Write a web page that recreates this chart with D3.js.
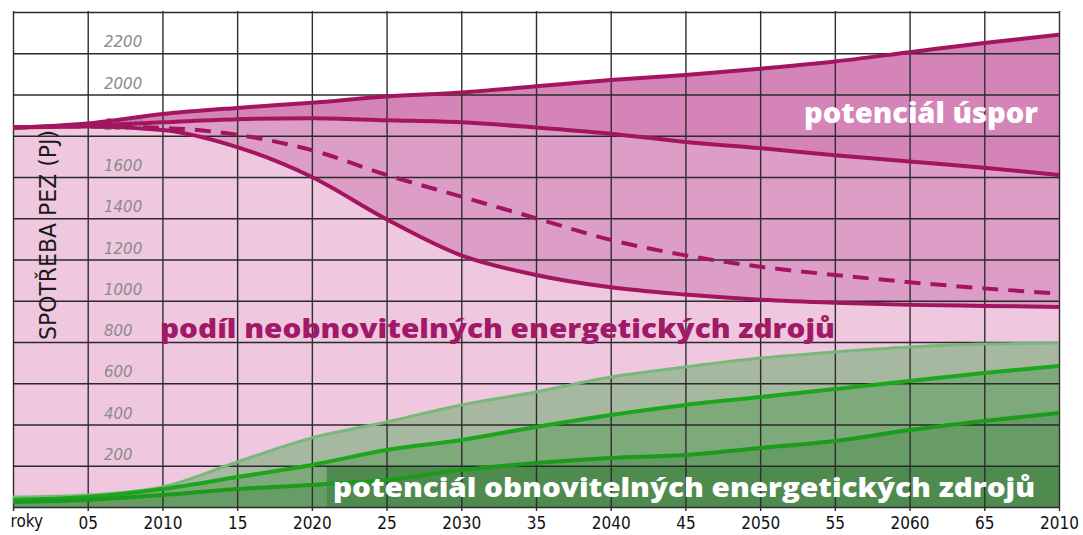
<!DOCTYPE html>
<html>
<head>
<meta charset="utf-8">
<script src="https://cdn.jsdelivr.net/npm/d3@7"></script>
<style>
  body { margin: 0; background: #fff; }
  svg { display: block; }
</style>
</head>
<body>
<div id="chart"></div>
<script>
// roky 2000..2070 po 5 letech
const years = [2000, 2005, 2010, 2015, 2020, 2025, 2030, 2035, 2040, 2045, 2050, 2055, 2060, 2065, 2070];
const yearLabels = ['roky', '05', '2010', '15', '2020', '25', '2030', '35', '2040', '45', '2050', '55', '2060', '65', '2010'];
const yTicks = [0, 200, 400, 600, 800, 1000, 1200, 1400, 1600, 1800, 2000, 2200, 2400];
const yLabels = [200, 400, 600, 800, 1000, 1200, 1400, 1600, 1800, 2000, 2200];

// spotřeba PEZ (PJ)
const usporHigh = [1840, 1860, 1905, 1935, 1960, 1990, 2010, 2040, 2070, 2095, 2125, 2160, 2205, 2250, 2290];
const usporMid = [1840, 1850, 1865, 1880, 1885, 1875, 1865, 1840, 1810, 1770, 1740, 1705, 1675, 1645, 1610];
const usporDashed = [1840, 1845, 1838, 1805, 1730, 1610, 1505, 1400, 1295, 1220, 1165, 1125, 1090, 1060, 1035];
const neobnovitelne = [1840, 1845, 1828, 1745, 1600, 1395, 1220, 1125, 1065, 1030, 1005, 990, 980, 975, 970];

// potenciál OZE
const ozeHigh = [48, 58, 97, 218, 335, 412, 495, 558, 630, 679, 722, 752, 776, 790, 795];
const ozeMid = [34, 48, 87, 145, 204, 276, 325, 388, 446, 495, 533, 572, 611, 650, 684];
const ozeLow = [24, 34, 58, 87, 107, 131, 179, 213, 238, 252, 286, 320, 373, 417, 456];

const width = 1083, height = 535;
const plotLeft = 13, plotRight = 1059, plotTop = 12, plotBottom = 507;

const svg = d3.select('#chart').append('svg')
    .attr('width', width)
    .attr('height', height);

const x = d3.scaleLinear().domain([2000, 2070]).range([plotLeft, plotRight]);
const y = d3.scaleLinear().domain([0, 2400]).range([plotBottom, plotTop]);

const rows = (a, b) => years.map((yr, i) => ({ yr: yr, lo: a ? a[i] : 0, hi: b[i] }));

const area = d3.area()
    .curve(d3.curveMonotoneX)
    .x(d => x(d.yr))
    .y0(d => y(d.lo))
    .y1(d => y(d.hi));

const line = d3.line()
    .curve(d3.curveMonotoneX)
    .x(d => x(d.yr))
    .y(d => y(d.hi));

// růžové plochy
svg.append('rect')
    .attr('x', plotLeft).attr('y', y(1840))
    .attr('width', plotRight - plotLeft).attr('height', plotBottom - y(1840))
    .attr('fill', '#efc7df');
svg.append('path').attr('d', area(rows(null, neobnovitelne))).attr('fill', '#efc7df');
svg.append('path').attr('d', area(rows(neobnovitelne, usporMid))).attr('fill', '#dc9ec6');
svg.append('path').attr('d', area(rows(usporMid, usporHigh))).attr('fill', '#d584b8');

// zelené plochy
svg.append('path').attr('d', area(rows(null, ozeHigh))).attr('fill', '#a6b9a0');
svg.append('path').attr('d', area(rows(null, ozeMid))).attr('fill', '#7ea97b');
svg.append('path').attr('d', area(rows(null, ozeLow))).attr('fill', '#689c66');
svg.append('rect')
    .attr('x', x(2021)).attr('y', y(200))
    .attr('width', plotRight - x(2021)).attr('height', plotBottom - y(200))
    .attr('fill', '#4f8b4f');

// mřížka
const xAxis = d3.axisBottom(x)
    .tickValues(years)
    .tickSize(-500)
    .tickPadding(6)
    .tickFormat((d, i) => yearLabels[i]);

const gx = svg.append('g')
    .attr('transform', 'translate(0,511)')
    .call(xAxis);
gx.select('.domain').remove();
gx.selectAll('line').attr('stroke', '#2e2e2e').attr('stroke-width', 1.4);
gx.selectAll('text')
    .attr('font-family', '"DejaVu Sans Condensed", "DejaVu Sans", sans-serif')
    .attr('font-size', 17)
    .attr('fill', '#111');
gx.selectAll('text').filter((d, i) => i === 0)
    .attr('text-anchor', 'start')
    .attr('x', -3)
    .attr('dy', '0.6em');

const yAxis = d3.axisLeft(y)
    .tickValues(yTicks)
    .tickSize(-(plotRight - plotLeft))
    .tickFormat('');

const gy = svg.append('g')
    .attr('transform', `translate(${plotLeft},0)`)
    .call(yAxis);
gy.select('.domain').remove();
gy.selectAll('line').attr('stroke', '#2a2a2a').attr('stroke-width', 1.5);

// popisky osy y
svg.append('g').selectAll('text')
    .data(yLabels)
    .enter()
    .append('text')
    .attr('x', 104)
    .attr('y', d => y(d) - 6)
    .attr('font-family', '"DejaVu Sans", sans-serif')
    .attr('font-style', 'italic')
    .attr('font-weight', 300)
    .attr('font-size', 15)
    .attr('fill', '#8a8a8a')
    .text(d => d);

// křivky
const magenta = '#a3165f';
[usporHigh, usporMid, neobnovitelne].forEach(s => {
    svg.append('path')
        .attr('d', line(rows(null, s)))
        .attr('fill', 'none')
        .attr('stroke', magenta)
        .attr('stroke-width', 4);
});
svg.append('path')
    .attr('d', line(rows(null, usporDashed)))
    .attr('fill', 'none')
    .attr('stroke', magenta)
    .attr('stroke-width', 4)
    .attr('stroke-dasharray', '16,10');

svg.append('path')
    .attr('d', line(rows(null, ozeHigh)))
    .attr('fill', 'none')
    .attr('stroke', '#78b878')
    .attr('stroke-width', 3);
svg.append('path')
    .attr('d', line(rows(null, ozeMid)))
    .attr('fill', 'none')
    .attr('stroke', '#1ea51e')
    .attr('stroke-width', 4);
svg.append('path')
    .attr('d', line(rows(null, ozeLow)))
    .attr('fill', 'none')
    .attr('stroke', '#1c9a1c')
    .attr('stroke-width', 4);

// popisky
const labelFont = '"Open Sans", "Noto Sans", sans-serif';
svg.append('text')
    .attr('x', 804).attr('y', 123)
    .attr('font-family', labelFont)
    .attr('font-weight', 800)
    .attr('font-size', 28)
    .attr('fill', '#fff')
    .attr('textLength', 234)
    .attr('lengthAdjust', 'spacingAndGlyphs')
    .text('potenciál úspor');

svg.append('text')
    .attr('x', 160).attr('y', 338)
    .attr('font-family', labelFont)
    .attr('font-weight', 800)
    .attr('font-size', 27)
    .attr('fill', '#a01a68')
    .attr('textLength', 675)
    .attr('lengthAdjust', 'spacingAndGlyphs')
    .text('podíl neobnovitelných energetických zdrojů');

svg.append('text')
    .attr('x', 333).attr('y', 497)
    .attr('font-family', labelFont)
    .attr('font-weight', 800)
    .attr('font-size', 27)
    .attr('fill', '#fff')
    .attr('textLength', 702)
    .attr('lengthAdjust', 'spacingAndGlyphs')
    .text('potenciál obnovitelných energetických zdrojů');

// název osy y
svg.append('text')
    .attr('transform', 'translate(56,235) rotate(-90)')
    .attr('text-anchor', 'middle')
    .attr('font-family', '"DejaVu Sans", sans-serif')
    .attr('font-size', 23)
    .attr('fill', '#1a1a1a')
    .attr('textLength', 210)
    .attr('lengthAdjust', 'spacingAndGlyphs')
    .text('SPOTŘEBA PEZ (PJ)');
</script>
</body>
</html>
